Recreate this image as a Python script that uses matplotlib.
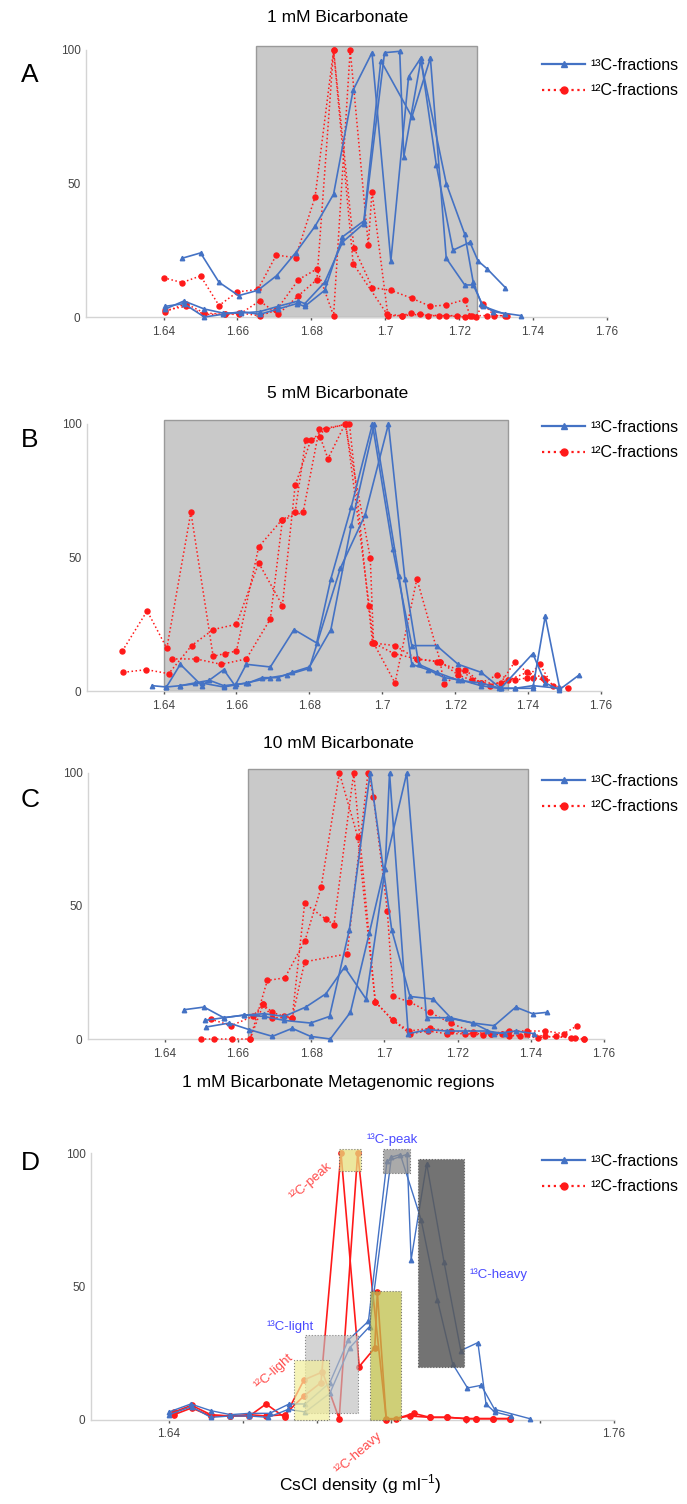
"""Stable isotope probing density profiles, four panels (A-D)."""

## Libraries
import matplotlib
matplotlib.use('Agg')
import matplotlib.pyplot as plt
from matplotlib.lines import Line2D
from matplotlib.patches import Rectangle

## Constants
FIG_W, FIG_H = 687, 1504
BLUE = '#4472C4'
RED = '#FF1A1A'
SHADE = '#C9C9C9'
SPINE = '#D4D4D4'
LABEL_BLUE = '#4A4AFF'
LABEL_RED = '#FF4A4A'
XLIM = (1.619, 1.76)

plt.rcParams['font.family'] = ['Liberation Sans', 'DejaVu Sans']
plt.rcParams['mathtext.fontset'] = 'custom'
plt.rcParams['mathtext.rm'] = 'Liberation Sans'

## Data -- panel A (1 mM)
a_blue_x = [
    [1.645, 1.650, 1.655, 1.6603, 1.6655, 1.6706, 1.6757, 1.681, 1.686, 1.6913, 1.6964, 1.7015, 1.7063,
     1.7096, 1.7138, 1.7183, 1.7229, 1.7251, 1.7276, 1.7325],
    [1.6405, 1.6455, 1.651, 1.656, 1.661, 1.666, 1.671, 1.6765, 1.6782, 1.6836, 1.6884, 1.6942, 1.6998,
     1.7039, 1.705, 1.7096, 1.7165, 1.7215, 1.7238, 1.726, 1.7292, 1.7368],
    [1.6405, 1.6455, 1.651, 1.656, 1.661, 1.666, 1.671, 1.676, 1.6782, 1.6836, 1.6884, 1.6942, 1.6988,
     1.7072, 1.7122, 1.7165, 1.7215, 1.7238, 1.7265, 1.7325],
]
a_blue_y = [
    [22, 24, 13, 8, 10, 15.5, 24, 34, 46, 85, 99, 21, 90, 97, 57, 25, 28, 21, 18, 11],
    [3, 6, 3, 1.5, 1.5, 2, 4, 6, 5, 13, 28, 35, 99, 99.5, 60, 96, 50, 31, 13, 5, 2, 0.5],
    [4, 5, 0, 1, 2, 1, 3, 5, 4, 10, 30, 36, 96, 75, 97, 22, 12, 12, 4, 1],
]
a_red_x = [
    [1.640, 1.645, 1.650, 1.655, 1.660, 1.6655, 1.6705, 1.6757, 1.681, 1.686, 1.6915, 1.6965, 1.7015,
     1.7072, 1.7122, 1.7165, 1.7215, 1.7229],
    [1.6405, 1.646, 1.651, 1.6565, 1.6605, 1.666, 1.6705, 1.6765, 1.6815, 1.686, 1.6905, 1.6954, 1.6964,
     1.7007, 1.7045, 1.707, 1.7115, 1.7165, 1.7215, 1.7245, 1.7265, 1.7295, 1.733],
    [1.6405, 1.646, 1.651, 1.6565, 1.6605, 1.666, 1.671, 1.6765, 1.6815, 1.686, 1.6913, 1.7005, 1.7045,
     1.7095, 1.7145, 1.7195, 1.7235, 1.7275, 1.7325],
]
a_red_y = [
    [14.7, 12.9, 15.4, 4.3, 9.4, 10.3, 23.2, 22.2, 45, 100, 26, 11, 10, 7, 4, 4.5, 6.5, 0.5],
    [2, 5, 1.5, 1, 1.5, 0.5, 2.5, 14, 18, 0.5, 100, 27, 47, 0.5, 0.5, 1.5, 0.5, 0.5, 0, 0, 5, 0.5, 0.5],
    [2.5, 4, 1, 1, 1, 6, 1, 8, 14, 100, 20, 1, 0.5, 1, 0.5, 0.5, 0.5, 0.5, 0.5],
]
a_shade = (1.665, 1.7247)

## Data -- panel B (5 mM)
b_blue_x = [
    [1.6368, 1.6408, 1.6446, 1.6505, 1.6565, 1.6596, 1.6627, 1.6693, 1.6758, 1.682, 1.6859, 1.6915,
     1.6973, 1.7029, 1.7081, 1.7149, 1.7208, 1.7271, 1.7325, 1.7413, 1.7447, 1.7486, 1.754],
    [1.6408, 1.6446, 1.6485, 1.6526, 1.6565, 1.660, 1.6632, 1.667, 1.6713, 1.6753, 1.680, 1.6859, 1.6915,
     1.6978, 1.7046, 1.7081, 1.7125, 1.717, 1.722, 1.727, 1.732, 1.7364, 1.7413, 1.7447, 1.7486],
    [1.6446, 1.6505, 1.6565, 1.6627, 1.6693, 1.6738, 1.680, 1.6885, 1.6953, 1.7017, 1.7062, 1.710, 1.7149,
     1.7208, 1.7271, 1.7325, 1.7364, 1.7413, 1.7486],
]
b_blue_y = [
    [2, 1.5, 10, 2, 8, 2, 10, 9, 23, 18, 42, 69, 100, 53, 17, 17, 10, 7, 1, 14, 3, 0.5, 6],
    [1.5, 2, 3, 4, 2, 2.5, 3, 5, 5, 7, 9, 23, 62, 100, 43, 10, 8, 5, 4, 2, 1, 1, 1, 28, 1.5],
    [2, 3, 1.5, 3, 5, 6, 8.5, 46, 66, 100, 42, 10, 7, 4, 3, 1, 1, 2, 1],
]
b_red_x = [
    [1.6287, 1.6355, 1.6409, 1.6475, 1.6536, 1.6568, 1.660, 1.6661, 1.6724, 1.6761, 1.679, 1.683, 1.6851,
     1.6898, 1.6967, 1.6976, 1.7032, 1.7095, 1.7149, 1.7208, 1.7271, 1.7325, 1.7364, 1.7413, 1.7447],
    [1.629, 1.6353, 1.6414, 1.6477, 1.6536, 1.660, 1.6661, 1.6726, 1.6761, 1.6804, 1.6846, 1.690, 1.6964,
     1.6976, 1.7035, 1.7095, 1.7159, 1.7208, 1.7246, 1.7296, 1.7344, 1.7398, 1.7442],
    [1.6423, 1.649, 1.6558, 1.6627, 1.6693, 1.6726, 1.6783, 1.6827, 1.691, 1.6973, 1.7035, 1.7095, 1.7159,
     1.7169, 1.7227, 1.7271, 1.7316, 1.7364, 1.7398, 1.7432, 1.7467, 1.751],
]
b_red_y = [
    [15, 30, 16, 67, 13, 14, 15, 54, 64, 67, 94, 95, 87, 100, 50, 18, 14, 12, 11, 8, 3, 3, 11, 5, 4],
    [7, 8, 6.5, 17, 23, 25, 48, 32, 77, 94, 98, 100, 32, 18, 3, 42, 11, 6, 4, 2, 4, 7, 5],
    [12, 12, 10, 12, 27, 64, 67, 98, 100, 18, 17, 12, 11, 2.5, 8, 3, 6, 4, 5, 10, 2, 1],
]
b_shade = (1.640, 1.7345)

## Data -- panel C (10 mM)
c_blue_x = [
    [1.6452, 1.6507, 1.6561, 1.6617, 1.6671, 1.6726, 1.6785, 1.684, 1.6891, 1.695, 1.7002, 1.7014, 1.7065,
     1.712, 1.717, 1.722, 1.728, 1.733],
    [1.6509, 1.6561, 1.6617, 1.667, 1.6726, 1.6798, 1.685, 1.6904, 1.6961, 1.702, 1.707, 1.7133, 1.7181,
     1.7242, 1.730, 1.7359, 1.741],
    [1.6513, 1.6576, 1.6631, 1.6694, 1.6748, 1.6798, 1.6852, 1.6907, 1.6959, 1.7061, 1.7115, 1.7172,
     1.7242, 1.730, 1.7359, 1.7405, 1.7443],
]
c_blue_y = [
    [11, 12, 8, 9, 9.5, 8.5, 12, 17, 27, 15, 64, 100, 2, 3.5, 3, 3, 3, 2],
    [7, 8, 9, 8.5, 7, 6, 8.5, 41, 100, 41, 16, 15, 8, 6, 2, 3, 2],
    [4.5, 6, 3.5, 1, 4, 1, 0, 10, 40, 100, 8, 8, 6, 5, 12, 9.5, 10],
]
c_red_x = [
    [1.6498, 1.6534, 1.6584, 1.6633, 1.668, 1.6728, 1.6783, 1.6827, 1.6877, 1.6927, 1.6975, 1.7023,
     1.707, 1.712, 1.717, 1.722, 1.727, 1.732, 1.737, 1.742, 1.747, 1.752, 1.7545],
    [1.6525, 1.6581, 1.664, 1.6669, 1.6694, 1.6748, 1.6782, 1.684, 1.6862, 1.6916, 1.6975, 1.7023,
     1.7068, 1.7124, 1.7181, 1.7242, 1.729, 1.734, 1.739, 1.744, 1.749, 1.7527],
    [1.6633, 1.6669, 1.6694, 1.6726, 1.6748, 1.6782, 1.6898, 1.6955, 1.697, 1.7008, 1.7024, 1.7068,
     1.7124, 1.7181, 1.7242, 1.729, 1.734, 1.739, 1.744, 1.7509, 1.7545],
]
c_red_y = [
    [0, 0, 0, 0, 22, 23, 37, 57, 100, 76, 14, 7, 2, 3, 2, 2, 1.5, 2, 1, 0.5, 1, 0.5, 0],
    [7.5, 5, 8.5, 13, 8, 8, 51, 45, 43, 100, 14, 7, 3, 4, 3, 2, 2, 3, 3, 3, 2, 5],
    [0, 13, 10, 8.5, 8, 29, 32, 100, 91, 48, 16, 14, 10, 6, 2.5, 2, 1, 2, 1, 0.5, 0],
]
c_shade = (1.6626, 1.7392)

## Data -- panel D (1 mM, metagenomic regions)
d_blue_x = [
    [1.640, 1.6459, 1.6513, 1.6566, 1.6617, 1.6672, 1.6724, 1.6768, 1.6834, 1.6884, 1.6938, 1.6988,
     1.7042, 1.7053, 1.7095, 1.7142, 1.7187, 1.7233, 1.7255, 1.7278, 1.7323],
    [1.640, 1.6461, 1.6513, 1.6566, 1.6617, 1.6668, 1.6722, 1.6768, 1.6834, 1.6887, 1.6941, 1.700,
     1.7024, 1.708, 1.7124, 1.7165, 1.7205, 1.7242, 1.7278, 1.7373],
]
d_blue_y = [
    [3, 6, 3.5, 2, 2.5, 2.5, 6, 6, 14, 30, 37, 97, 99.5, 60, 96, 59, 26, 29, 6, 3, 1.5],
    [2, 5, 1, 1.5, 1.5, 1, 4, 3, 10, 27, 35, 98.5, 99.4, 75, 45, 21, 12, 13, 4, 0.5],
]
d_red_x = [
    [1.6414, 1.6461, 1.6513, 1.6566, 1.6617, 1.6662, 1.6712, 1.6764, 1.6814, 1.6859, 1.6909, 1.6986,
     1.7013, 1.706, 1.7103, 1.7151, 1.7202, 1.7229, 1.7273, 1.7319],
    [1.6414, 1.6461, 1.6513, 1.6566, 1.6617, 1.6662, 1.6712, 1.6764, 1.681, 1.6864, 1.6913, 1.6955,
     1.6962, 1.6986, 1.7049, 1.7103, 1.7151, 1.7202, 1.7229, 1.7273, 1.7319],
]
d_red_y = [
    [2, 4.5, 1.5, 1.5, 1.5, 6, 1, 15, 18, 0.5, 100, 0.5, 0.5, 2.5, 1, 1, 0.5, 0.5, 0.5, 0.5],
    [3, 5.5, 2, 1.5, 2, 1.5, 2, 9, 14, 100, 20, 27, 48, 0, 1.5, 1, 1, 0.5, 0.5, 0.5, 0.5],
]
# metagenomic regions (order: 13C-light, 12C-light, 12C-peak, 13C-peak, 12C-heavy, 13C-heavy)
region_x = [(1.6767, 1.6910), (1.6738, 1.6832), (1.6859, 1.6919), (1.6976, 1.7050), (1.6941, 1.7027),
            (1.7072, 1.7196)]
region_y = [(2.5, 31.7), (0, 22.3), (93.4, 101.6), (92.5, 101.6), (0, 48.5), (20, 97.8)]
region_colors = ['#BDBDBD', '#F2EE9A', '#E6DF7E', '#8E8E8E', '#BFBF4A', '#5A5A5A']
region_alpha = [0.65, 0.7, 0.75, 0.75, 0.75, 0.85]

x_ticks = [1.64, 1.66, 1.68, 1.70, 1.72, 1.74, 1.76]
x_tick_labels = ['1.64', '1.66', '1.68', '1.7', '1.72', '1.74', '1.76']
y_ticks = [0, 50, 100]


def px_axes(left, right, top, bottom):
    """Pixel box (from top-left) -> figure fraction rect."""
    return [left / FIG_W, 1 - bottom / FIG_H, (right - left) / FIG_W, (bottom - top) / FIG_H]


def style_axes(ax, labels=x_tick_labels):
    ax.set_xlim(*XLIM)
    ax.set_ylim(0, 100)
    ax.set_xticks(x_ticks)
    ax.set_xticklabels(labels)
    ax.set_yticks(y_ticks)
    ax.tick_params(axis='x', length=2.5, width=1, color='#555555', labelsize=8.5,
                   labelcolor='#444444', pad=4)
    ax.tick_params(axis='y', length=0, labelsize=8.5, labelcolor='#444444', pad=4)
    for s in ['top', 'right']:
        ax.spines[s].set_visible(False)
    for s in ['left', 'bottom']:
        ax.spines[s].set_color(SPINE)
        ax.spines[s].set_linewidth(1)
    ax.set_facecolor('none')


def add_legend(ax, left_px, top_px):
    handles = [Line2D([], [], color=BLUE, lw=1.6, marker='^', ms=4.5),
               Line2D([], [], color=RED, lw=1.6, ls=':', marker='o', ms=5)]
    ax.legend(handles, ['¹³C-fractions', '¹²C-fractions'], loc='upper left',
              bbox_to_anchor=(left_px / FIG_W, 1 - top_px / FIG_H), bbox_transform=fig.transFigure,
              frameon=False, fontsize=11.5, handlelength=2.7, handletextpad=0.3, labelspacing=0.65,
              borderpad=0, borderaxespad=0)


def profile_panel(ax, bx, by, rx, ry, shade):
    ax.add_patch(Rectangle((shade[0], 0), shade[1] - shade[0], 101.5, facecolor=SHADE,
                           edgecolor='#9A9A9A', lw=1, zorder=1, clip_on=False))
    for xs, ys in zip(rx, ry):
        ax.plot(xs, ys, color=RED, lw=1.1, ls=':', marker='o', ms=3.6, zorder=3, clip_on=False)
    for xs, ys in zip(bx, by):
        ax.plot(xs, ys, color=BLUE, lw=1.2, marker='^', ms=3.2, zorder=4, clip_on=False)
    style_axes(ax)


fig = plt.figure(figsize=(FIG_W / 100, FIG_H / 100), dpi=100)

# panels A-C
panel_boxes = [(86, 607, 50, 317), (87, 601, 424, 691), (88, 604, 773, 1039)]
panel_data = [(a_blue_x, a_blue_y, a_red_x, a_red_y, a_shade),
              (b_blue_x, b_blue_y, b_red_x, b_red_y, b_shade),
              (c_blue_x, c_blue_y, c_red_x, c_red_y, c_shade)]
titles = ['1 mM Bicarbonate', '5 mM Bicarbonate', '10 mM Bicarbonate']
title_y = [17, 393, 743]
letters = ['A', 'B', 'C']
letter_y = [75, 440, 800]
legend_top = [58, 420, 774]

for box, data, title, ty, letter, ly, lt in zip(panel_boxes, panel_data, titles, title_y,
                                                  letters, letter_y, legend_top):
    ax = fig.add_axes(px_axes(*box))
    profile_panel(ax, *data)
    fig.text(338 / FIG_W, 1 - ty / FIG_H, title, ha='center', va='center', fontsize=12.5)
    fig.text(30 / FIG_W, 1 - ly / FIG_H, letter, ha='center', va='center', fontsize=19)
    add_legend(ax, 542, lt)

# panel D
axd = fig.add_axes(px_axes(91, 614, 1153, 1420))
for xs, ys in zip(d_red_x, d_red_y):
    axd.plot(xs, ys, color=RED, lw=1.2, marker='o', ms=3.8, zorder=3, clip_on=False)
for xs, ys in zip(d_blue_x, d_blue_y):
    axd.plot(xs, ys, color=BLUE, lw=1.0, marker='^', ms=3.2, zorder=4, clip_on=False)
for (x0, x1), (y0, y1), col, al in zip(region_x, region_y, region_colors, region_alpha):
    axd.add_patch(Rectangle((x0, y0), x1 - x0, y1 - y0, facecolor=col, alpha=al, edgecolor='#555555',
                            lw=0.8, ls=':', zorder=5, clip_on=False))
d_labels = ['' if t not in (1.64, 1.76) else s for t, s in zip(x_ticks, x_tick_labels)]
style_axes(axd, d_labels)
axd.tick_params(axis='x', length=2)

axd.text(1.7002, 105, '¹³C-peak', color=LABEL_BLUE, fontsize=9.5, ha='center', va='center')
axd.text(1.7211, 54.3, '¹³C-heavy', color=LABEL_BLUE, fontsize=9.5, ha='left', va='center')
axd.text(1.6726, 34.8, '¹³C-light', color=LABEL_BLUE, fontsize=9.5, ha='center', va='center')
axd.text(1.6782, 89.2, '¹²C-peak', color=LABEL_RED, fontsize=9.5, ha='center', va='center',
         rotation=41, rotation_mode='anchor')
axd.text(1.6683, 18.1, '¹²C-light', color=LABEL_RED, fontsize=9.5, ha='center', va='center',
         rotation=42, rotation_mode='anchor')
axd.text(1.6910, -12.5, '¹²C-heavy', color=LABEL_RED, fontsize=9.5, ha='center', va='center',
         rotation=41, rotation_mode='anchor', clip_on=False)
add_legend(axd, 542, 1154)

fig.text(338 / FIG_W, 1 - 1082 / FIG_H, '1 mM Bicarbonate Metagenomic regions', ha='center',
         va='center', fontsize=12.5)
fig.text(30 / FIG_W, 1 - 1163 / FIG_H, 'D', ha='center', va='center', fontsize=19)
fig.text(360 / FIG_W, 1 - 1484 / FIG_H, 'CsCl density (g ml$^{-1}$)', ha='center', va='center',
         fontsize=12.5)

fig.savefig('out.png', dpi=100)
